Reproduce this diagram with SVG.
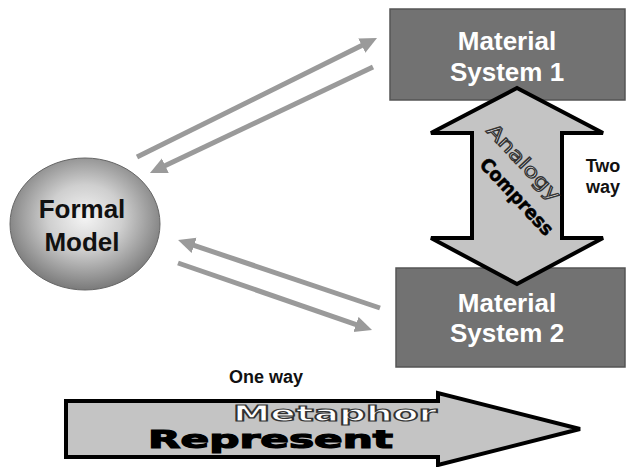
<svg xmlns="http://www.w3.org/2000/svg" width="627" height="467" viewBox="0 0 627 467">
<style>
.box{fill:#727272;stroke:#555;stroke-width:1.5}
.boxt{font-family:"Liberation Sans",Arial,sans-serif;font-weight:bold;font-size:26px;fill:#fff;text-anchor:middle}
.lbl{font-family:"Liberation Sans",Arial,sans-serif;font-weight:bold;font-size:18px;fill:#111;text-anchor:middle}
.big{fill:#c4c4c4;stroke:#000;stroke-width:4;stroke-linejoin:miter}
.conn{stroke:#9a9a9a;stroke-width:5;fill:none}
.outl{font-family:"DejaVu Sans","Liberation Sans",sans-serif;font-weight:bold;fill:#fff;stroke:#333;stroke-width:1.2}
.heavy{font-family:"DejaVu Sans","Liberation Sans",sans-serif;font-weight:bold;fill:#000;stroke:#000}
</style>
<defs>
<radialGradient id="sph" cx="0.5" cy="0.45" r="0.55">
<stop offset="0" stop-color="#f4f4f4"/>
<stop offset="0.45" stop-color="#cfcfcf"/>
<stop offset="1" stop-color="#7a7a7a"/>
</radialGradient>
<marker id="ah" markerUnits="userSpaceOnUse" markerWidth="20" markerHeight="18" refX="1" refY="8" orient="auto">
<path d="M0,0 L17,8 L0,16 z" fill="#9a9a9a"/>
</marker>
</defs>
<rect width="627" height="467" fill="#fff"/>
<g id="ms1">
<rect class="box" x="390" y="9" width="235" height="91"/>
<text class="boxt" x="507" y="50">Material</text>
<text class="boxt" x="507" y="81">System 1</text>
</g>
<g id="ms2">
<rect class="box" x="396" y="268" width="229" height="99"/>
<text class="boxt" x="507" y="312">Material</text>
<text class="boxt" x="507" y="342">System 2</text>
</g>
<g id="formal">
<ellipse cx="85" cy="224" rx="75" ry="66" fill="url(#sph)" stroke="#666" stroke-width="1"/>
<text class="boxt" x="82" y="218" style="fill:#111">Formal</text>
<text class="boxt" x="82" y="251" style="fill:#111">Model</text>
</g>
<g id="connectors">
<line class="conn" x1="137" y1="157" x2="362.7" y2="45.1" marker-end="url(#ah)"/>
<line class="conn" x1="373" y1="67" x2="164.4" y2="166.1" marker-end="url(#ah)"/>
<line class="conn" x1="380" y1="308" x2="193.2" y2="245.1" marker-end="url(#ah)"/>
<line class="conn" x1="178" y1="263" x2="356.9" y2="324.8" marker-end="url(#ah)"/>
</g>
<g id="analogy">
<polygon class="big" points="517,88 603,133 562,133 562,238 603,238 517,284 431,238 472,238 472,133 431,133"/>
<text class="outl" x="519" y="167" font-size="19" style="font-weight:normal" stroke-width="1.3" text-anchor="middle" textLength="98" lengthAdjust="spacingAndGlyphs" transform="rotate(47 519 167)">Analogy</text>
<text class="heavy" x="512" y="201" font-size="19" stroke-width="0.5" text-anchor="middle" textLength="98" lengthAdjust="spacingAndGlyphs" transform="rotate(47 512 201)">Compress</text>
</g>
<g id="twoway">
<text class="lbl" x="603" y="172">Two</text>
<text class="lbl" x="603" y="193">way</text>
</g>
<g id="metaphor">
<polygon class="big" points="66,401 438,401 438,393 580,429 438,465 438,457 66,457"/>
<text class="outl" x="233" y="421" font-size="21" stroke-width="1.4" textLength="204" lengthAdjust="spacingAndGlyphs">Metaphor</text>
<text class="heavy" x="148" y="448" font-size="25" stroke-width="1.2" textLength="245" lengthAdjust="spacingAndGlyphs">Represent</text>
</g>
<g id="oneway">
<text class="lbl" x="266" y="383">One way</text>
</g>
</svg>
